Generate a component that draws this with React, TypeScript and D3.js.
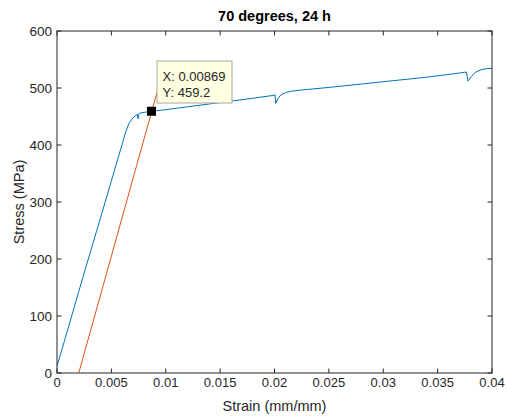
import React from "react";
import * as d3 from "d3";

const title = "70 degrees, 24 h";
const xLabel = "Strain (mm/mm)";
const yLabel = "Stress (MPa)";
const xTicks = [0, 0.005, 0.01, 0.015, 0.02, 0.025, 0.03, 0.035, 0.04];
const xTickLabels = ["0", "0.005", "0.01", "0.015", "0.02", "0.025", "0.03", "0.035", "0.04"];
const yTicks = [0, 100, 200, 300, 400, 500, 600];

// measured stress-strain curve (blue)
const curveStrain = [
  0, 0.001, 0.002, 0.003, 0.004, 0.005, 0.0056, 0.0060, 0.0063, 0.0066, 0.0069, 0.0072,
  0.0074, 0.00745, 0.0075, 0.0076, 0.0081, 0.00869, 0.010, 0.012, 0.014, 0.016, 0.018,
  0.0199, 0.02005, 0.0201, 0.0203, 0.0206, 0.0210, 0.0216, 0.0225, 0.025, 0.028, 0.031,
  0.034, 0.0365, 0.03765, 0.0378, 0.0381, 0.0385, 0.0390, 0.0395, 0.0400,
];
const curveStress = [
  12, 77, 143, 208, 272, 337, 376, 402, 422, 437, 446, 451,
  454, 446, 453, 456, 457.5, 459.2, 462, 467, 472, 477, 482,
  487, 488, 473, 481, 488, 492, 494.5, 496.5, 501, 507, 513,
  519, 525, 528, 512, 520, 528, 532, 534, 534.5,
];

// 0.2% offset line (orange)
const offsetStrain = [0.002, 0.0094];
const offsetStress = [0, 506];

const tipX = 0.00869;
const tipY = 459.2;
const tipLines = ["X: 0.00869", "Y: 459.2"];

const W = 507;
const H = 417;
const left = 57;
const right = 492;
const top = 31;
const bottom = 373;

export default function App() {
  const x = d3.scaleLinear().domain([0, 0.04]).range([left, right]);
  const y = d3.scaleLinear().domain([0, 600]).range([bottom, top]);
  const line = d3
    .line<[number, number]>()
    .x((d) => x(d[0]))
    .y((d) => y(d[1]));
  const blue = curveStrain.map((s, i) => [s, curveStress[i]] as [number, number]);
  const orange = offsetStrain.map((s, i) => [s, offsetStress[i]] as [number, number]);
  const font = "'Liberation Sans', Arial, Helvetica, sans-serif";
  const axisColor = "#262626";
  const tl = 4.5;
  const mx = x(tipX);
  const my = y(tipY);
  return (
    <svg
      width={W}
      height={H}
      style={{ position: "absolute", left: 0, top: 0, background: "#fff" }}
      fontFamily={font}
    >
      <rect x={0} y={0} width={W} height={H} fill="#ffffff" />
      <defs>
        <clipPath id="plotclip">
          <rect x={left} y={top} width={right - left} height={bottom - top} />
        </clipPath>
      </defs>
      <g clipPath="url(#plotclip)">
        <path d={line(blue) || ""} fill="none" stroke="#0072BD" strokeWidth={1} />
        <path d={line(orange) || ""} fill="none" stroke="#D95319" strokeWidth={1} />
      </g>
      <rect
        x={left}
        y={top}
        width={right - left}
        height={bottom - top}
        fill="none"
        stroke={axisColor}
        strokeWidth={1}
      />
      {xTicks.map((t, i) => (
        <g key={"xt" + i}>
          <line x1={x(t)} x2={x(t)} y1={bottom} y2={bottom - tl} stroke={axisColor} />
          <line x1={x(t)} x2={x(t)} y1={top} y2={top + tl} stroke={axisColor} />
          <text x={x(t)} y={387} textAnchor="middle" fontSize={13} fill={axisColor}>
            {xTickLabels[i]}
          </text>
        </g>
      ))}
      {yTicks.map((t, i) => (
        <g key={"yt" + i}>
          <line x1={left} x2={left + tl} y1={y(t)} y2={y(t)} stroke={axisColor} />
          <line x1={right} x2={right - tl} y1={y(t)} y2={y(t)} stroke={axisColor} />
          <text x={52} y={y(t) + 4.5} textAnchor="end" fontSize={13.5} fill={axisColor}>
            {t}
          </text>
        </g>
      ))}
      <text
        x={(left + right) / 2}
        y={21}
        textAnchor="middle"
        fontSize={14.5}
        fontWeight="bold"
        fill="#000"
      >
        {title}
      </text>
      <text x={(left + right) / 2} y={411} textAnchor="middle" fontSize={14.5} fill={axisColor}>
        {xLabel}
      </text>
      <text
        transform={`translate(23.5, ${(top + bottom) / 2}) rotate(-90)`}
        textAnchor="middle"
        fontSize={14.5}
        fill={axisColor}
      >
        {yLabel}
      </text>
      <rect x={mx - 4.5} y={my - 4.5} width={9} height={9} fill="#000" />
      <rect x={157} y={61} width={75} height={42} fill="#ffffe1" stroke="#a8a8a8" strokeWidth={1} />
      {tipLines.map((s, i) => (
        <text key={"tip" + i} x={162.5} y={81 + i * 16} fontSize={13} fill="#262626">
          {s}
        </text>
      ))}
    </svg>
  );
}
